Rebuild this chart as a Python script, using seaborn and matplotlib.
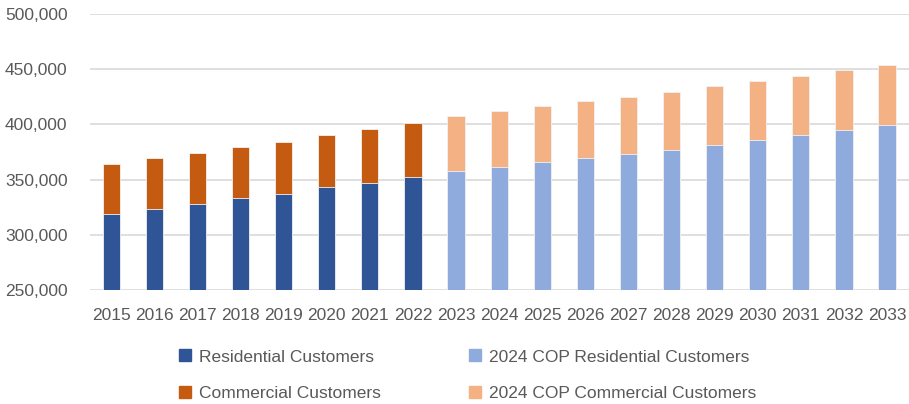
import matplotlib
matplotlib.use("Agg")
import matplotlib.pyplot as plt
import seaborn as sns
import pandas as pd
from matplotlib.patches import Patch
from matplotlib.ticker import FuncFormatter

years = [str(y) for y in range(2015, 2034)]
residential = [319200, 323700, 328300, 333700, 337000, 343300, 346900, 352100,
               357500, 361800, 366000, 369600, 373200, 376800, 381400, 385900,
               390200, 395000, 399200]
total = [364500, 369300, 374500, 379900, 384400, 390800, 395600, 401700,
         407600, 412500, 416700, 421000, 424900, 429400, 434500, 439100,
         444200, 449100, 453900]
period = ["Actual"] * 8 + ["COP"] * 11

labels = ["Residential Customers", "Commercial Customers",
          "2024 COP Residential Customers", "2024 COP Commercial Customers"]

df = pd.DataFrame({"year": years, "residential": residential,
                   "total": total, "period": period})

c_res = "#2F5597"
c_com = "#C55A11"
c_cres = "#8FAADC"
c_ccom = "#F4B183"

sns.set_theme(style="white")
plt.rcParams["font.family"] = ["Liberation Sans", "DejaVu Sans"]

fig = plt.figure(figsize=(9.09, 4.04), dpi=100)
ax = fig.add_axes([0.0987, 0.2822, 0.9008, 0.6832])

ax.yaxis.grid(True, color="#D9D9D9", linewidth=1.2)
ax.set_axisbelow(True)

sns.barplot(data=df, x="year", y="total", hue="period",
            palette={"Actual": c_com, "COP": c_ccom}, dodge=False,
            width=0.40, ax=ax, legend=False, edgecolor="#F2F2F2", linewidth=0.6,
            saturation=1)
sns.barplot(data=df, x="year", y="residential", hue="period",
            palette={"Actual": c_res, "COP": c_cres}, dodge=False,
            width=0.40, ax=ax, legend=False, edgecolor="#F2F2F2", linewidth=0.6,
            saturation=1)

ax.set_ylim(250000, 500000)
ax.set_yticks(range(250000, 500001, 50000))
ax.yaxis.set_major_formatter(FuncFormatter(lambda v, p: f"{int(v):,}"))
ax.set_xlim(-0.5, len(years) - 0.5)
ax.set_xlabel("")
ax.set_ylabel("")
for s in ax.spines.values():
    s.set_visible(False)
ax.tick_params(axis="both", length=0, labelsize=12.5, colors="#595959")
ax.tick_params(axis="x", pad=13)
ax.tick_params(axis="y", pad=16)

handles = [Patch(color=c_res), Patch(color=c_com),
           Patch(color=c_cres), Patch(color=c_ccom)]
leg = fig.legend(handles, labels, ncol=2, loc="upper left",
                 bbox_to_anchor=(0.197, 0.135), frameon=False,
                 fontsize=12.5, handlelength=0.69, handleheight=0.69,
                 handletextpad=0.46, columnspacing=5.05, labelspacing=1.22,
                 borderaxespad=0, borderpad=0)
for t in leg.get_texts():
    t.set_color("#595959")

fig.savefig("out.png", dpi=100)
